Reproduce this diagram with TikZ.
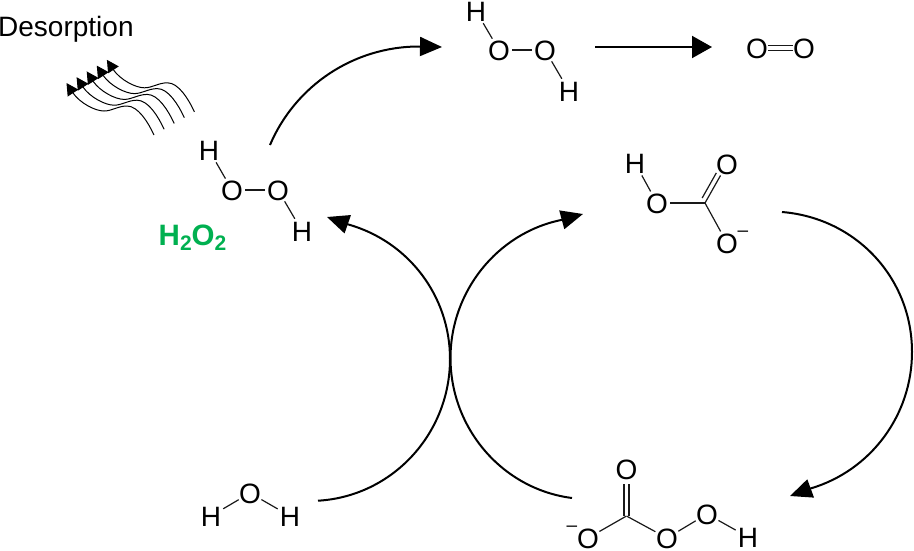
\documentclass[tikz,border=0pt]{standalone}
\usepackage{fontspec}
\setmainfont{Liberation Sans}
\usetikzlibrary{arrows.meta}
\newcommand{\atomtxt}[1]{\raisebox{-0.358em}[0pt][0pt]{\makebox[0pt]{#1}}}
\definecolor{hgreen}{HTML}{00B050}
\tikzset{
  oxy/.style={circle,inner sep=0pt,minimum size=26pt,font=\fontsize{28}{30}\selectfont},
  hyd/.style={circle,inner sep=0pt,minimum size=28pt,font=\fontsize{28}{30}\selectfont},
  carb/.style={circle,inner sep=0pt,minimum size=0pt},
  chg/.style={inner sep=0pt,font=\fontsize{19}{20}\selectfont},
  bond/.style={line width=1.2pt,black!90},
  rxn/.style={line width=2pt,black,-{Triangle[length=22pt,width=19pt]}},
  wav/.style={line width=1pt,black,-{Triangle[length=12pt,width=12.5pt]}}
}
\begin{document}
\begin{tikzpicture}[x=1pt,y=-1pt]
\useasboundingbox (0,0) rectangle (914,550);
% labels
\node[anchor=base west,inner sep=0pt,font=\fontsize{28}{30}\selectfont] (desorb) at (-2,36) {Desorption};
\node[anchor=base west,inner sep=0pt,text=hgreen,font=\fontsize{29.5}{32}\bfseries\selectfont] (hoo) at (158.5,245) {H\raisebox{-0.2em}{\fontsize{21}{22}\selectfont 2}O\raisebox{-0.2em}{\fontsize{21}{22}\selectfont 2}};
% H2O2 left
\node[hyd] (a1) at (209,150) {\atomtxt{H}};
\node[oxy] (a2) at (232,190) {\atomtxt{O}};
\node[oxy] (a3) at (278,190) {\atomtxt{O}};
\node[hyd] (a4) at (302,231) {\atomtxt{H}};
\draw[bond] (a1) -- (a2);
\draw[bond] (a2) -- (a3);
\draw[bond] (a3) -- (a4);
% H2O2 top
\node[hyd] (b1) at (476,11) {\atomtxt{H}};
\node[oxy] (b2) at (499,50) {\atomtxt{O}};
\node[oxy] (b3) at (545,50) {\atomtxt{O}};
\node[hyd] (b4) at (569,91) {\atomtxt{H}};
\draw[bond] (b1) -- (b2);
\draw[bond] (b2) -- (b3);
\draw[bond] (b3) -- (b4);
% O2
\node[oxy] (c1) at (757,48) {\atomtxt{O}};
\node[oxy] (c2) at (804,48) {\atomtxt{O}};
\draw[bond,shorten <=11pt,shorten >=11pt] ([yshift=2.7pt]c1.center) -- ([yshift=2.7pt]c2.center);
\draw[bond,shorten <=11pt,shorten >=11pt] ([yshift=-2.7pt]c1.center) -- ([yshift=-2.7pt]c2.center);
% HCO3-
\node[hyd] (d1) at (635,163) {\atomtxt{H}};
\node[oxy] (d2) at (657,203) {\atomtxt{O}};
\node[carb] (d3) at (705,203) {};
\node[oxy] (d4) at (727,164) {\atomtxt{O}};
\node[oxy] (d5) at (727,243) {\atomtxt{O}};
\node[chg] (d6) at (743,234) {–};
\draw[bond] (d1) -- (d2);
\draw[bond] (d2) -- (d3);
\draw[bond] (d3) -- (d4);
\draw[bond,shorten >=13pt,shorten <=3pt] ([shift={(-4.3,-2.4)}]d3.center) -- ([shift={(-4.3,-2.4)}]d4.center);
\draw[bond] (d3) -- (d5);
% HCO4-
\node[oxy] (e1) at (626.5,469) {\atomtxt{O}};
\node[carb] (e2) at (626.5,516) {};
\node[oxy] (e3) at (588,538) {\atomtxt{O}};
\node[chg] (e4) at (572,529) {–};
\node[oxy] (e5) at (667,538) {\atomtxt{O}};
\node[oxy] (e6) at (707,514) {\atomtxt{O}};
\node[hyd] (e7) at (748,537) {\atomtxt{H}};
\draw[bond,shorten >=15pt] ([xshift=-2.5pt]e2.center) -- ([xshift=-2.5pt]e1.center);
\draw[bond,shorten >=15pt] ([xshift=2.5pt]e2.center) -- ([xshift=2.5pt]e1.center);
\draw[bond] (e2) -- (e3);
\draw[bond] (e2) -- (e5);
\draw[bond] (e5) -- (e6);
\draw[bond] (e6) -- (e7);
% H2O
\node[hyd] (f1) at (211,516) {\atomtxt{H}};
\node[oxy] (f2) at (250,493) {\atomtxt{O}};
\node[hyd] (f3) at (290,516) {\atomtxt{H}};
\draw[bond] (f1) -- (f2);
\draw[bond] (f2) -- (f3);
% reaction arrows
\coordinate (r1s) at (270,145);
\coordinate (r1b) at (419,46.5);
\coordinate (r1t) at (442,47);
\draw[rxn] (r1s) .. controls (295.4,85.3) and (354.1,46.5) .. (r1b) -- (r1t);
\coordinate (r2s) at (595,47);
\coordinate (r2t) at (712,47);
\draw[line width=2pt,black,-{Triangle[length=20pt,width=22pt]}] (r2s) -- (r2t);
\coordinate (r3s) at (318,500.7);
\coordinate (r3m) at (450,359);
\coordinate (r3b) at (348.5,224.5);
\coordinate (r3t) at (327,217);
\draw[rxn] (r3s) .. controls (392.5,496.4) and (450,433.6) .. (r3m) .. controls (450,296.3) and (408.8,241.7) .. (r3b) -- (r3t);
\coordinate (r4s) at (572,498);
\coordinate (r4m) at (450.5,358);
\coordinate (r4b) at (561,220);
\coordinate (r4t) at (583,214);
\draw[rxn] (r4s) .. controls (502.3,489.1) and (450.5,428.3) .. (r4m) .. controls (450.5,292.1) and (496.5,233.5) .. (r4b) -- (r4t);
\coordinate (r5s) at (782,212);
\coordinate (r5m) at (912,352);
\coordinate (r5b) at (810.5,488.5);
\coordinate (r5t) at (790,496);
\draw[rxn] (r5s) .. controls (856,218) and (912,278) .. (r5m) .. controls (912,415) and (870.9,470.6) .. (r5b) -- (r5t);
% desorption wavy arrows
\foreach \k in {0,...,4}{
  \begin{scope}[shift={(10.1*\k,-5.8*\k)}]
    \draw[wav] (154,135) .. controls (148,122) and (138,106) .. (127,106)
      .. controls (118,106) and (112,111) .. (104,111)
      .. controls (95,111) and (80,103) .. (73,93) -- (66.5,83);
  \end{scope}
}
\end{tikzpicture}
\end{document}
